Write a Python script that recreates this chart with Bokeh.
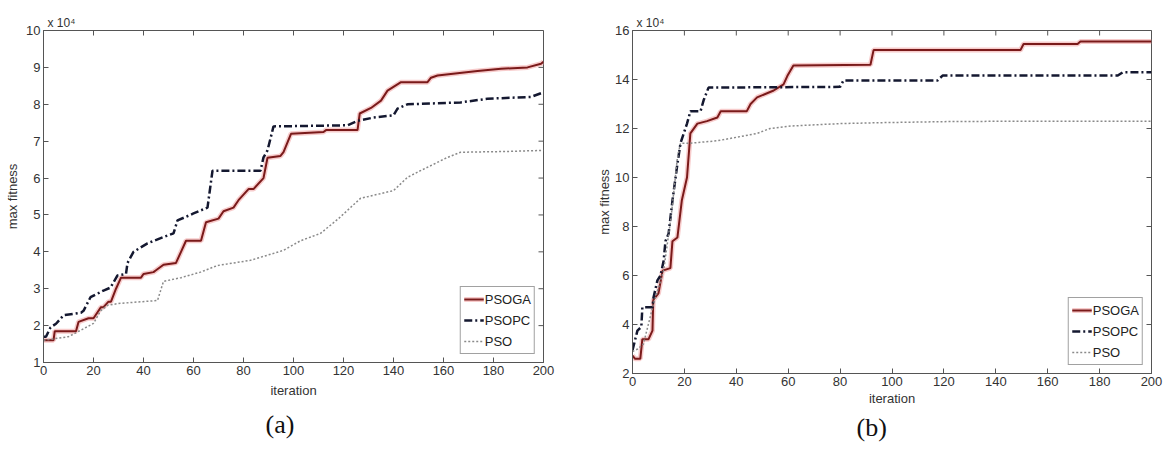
from bokeh.plotting import figure
from bokeh.models import Legend, LegendItem, FixedTicker, Range1d, Title
from bokeh.layouts import row
from bokeh.embed import file_html
from bokeh.resources import INLINE

# ---------------- data (a) ----------------
a_psoga_x = [0, 4, 4.5, 13, 14, 18, 20, 23, 24, 26, 27, 29, 31, 39, 40, 44, 45, 48, 53, 55, 57, 63, 65, 70, 72, 76, 78, 82, 84, 88, 89.6, 94.8, 96, 99, 112, 113, 125.6, 126.5, 131, 135, 137.6, 143, 153.6, 155, 157.6, 173.6, 183, 193.6, 199, 200]
a_psoga_y = [1.6, 1.6, 1.85, 1.85, 2.1, 2.2, 2.2, 2.5, 2.5, 2.65, 2.65, 3.0, 3.3, 3.3, 3.4, 3.45, 3.5, 3.65, 3.7, 4.0, 4.3, 4.3, 4.8, 4.9, 5.1, 5.2, 5.4, 5.7, 5.7, 6.0, 6.55, 6.6, 6.7, 7.2, 7.25, 7.3, 7.3, 7.75, 7.9, 8.1, 8.37, 8.6, 8.6, 8.72, 8.78, 8.9, 8.96, 9.0, 9.1, 9.15]
a_psopc_x = [0, 1, 2.8, 5, 8, 15, 16, 18.8, 24, 26.8, 29.6, 33, 33.6, 36, 41.6, 48, 52, 53.6, 60, 65.6, 66, 67.6, 86.8, 88, 89.6, 92, 121.6, 125.6, 132, 140, 141.6, 145.6, 166.8, 177.6, 195, 199, 200]
a_psopc_y = [1.7, 1.7, 1.95, 2.05, 2.28, 2.35, 2.4, 2.77, 2.95, 3.03, 3.36, 3.4, 3.7, 4.0, 4.23, 4.4, 4.5, 4.85, 5.04, 5.2, 5.4, 6.2, 6.2, 6.56, 6.75, 7.4, 7.43, 7.55, 7.64, 7.7, 7.88, 8.0, 8.05, 8.15, 8.2, 8.3, 8.3]
a_pso_x = [0, 10, 14.8, 20, 22.8, 25.6, 30, 45.6, 48, 55, 62.8, 69.6, 82.8, 96, 102.8, 110.8, 118, 126.8, 140, 145.6, 150.8, 161.6, 166.8, 185, 200]
a_pso_y = [1.6, 1.7, 1.87, 2.06, 2.4, 2.55, 2.6, 2.68, 3.2, 3.3, 3.45, 3.63, 3.77, 4.04, 4.3, 4.5, 4.9, 5.45, 5.66, 6.02, 6.2, 6.56, 6.7, 6.72, 6.75]

# ---------------- data (b) ----------------
b_psoga_x = [0, 1, 3, 3.8, 6.2, 7.7, 8, 10, 11.6, 14.6, 15.4, 17.3, 19, 21, 22.3, 25, 28.7, 32.7, 34, 44, 45.5, 48, 54.4, 58.2, 59.7, 62, 91.7, 92.9, 149.5, 150.7, 171.5, 172.6, 200]
b_psoga_y = [2.73, 2.6, 2.6, 3.4, 3.4, 3.75, 5.0, 5.27, 6.2, 6.3, 7.4, 7.55, 9.06, 10.0, 11.8, 12.2, 12.3, 12.45, 12.7, 12.7, 13.0, 13.27, 13.55, 13.8, 14.15, 14.57, 14.6, 15.2, 15.2, 15.45, 15.45, 15.55, 15.55]
b_psopc_x = [0, 1.9, 3.4, 3.8, 7.7, 8.1, 9.6, 10.8, 12, 12.7, 13.9, 15.4, 17.3, 18.5, 21, 22.3, 26.2, 27.4, 29.3, 80, 81.3, 117.5, 119.5, 187, 189, 200]
b_psopc_y = [2.95, 3.75, 3.9, 4.7, 4.7, 5.1, 5.8, 6.0, 6.6, 7.4, 7.7, 9.06, 10.55, 11.4, 12.2, 12.7, 12.7, 13.15, 13.67, 13.7, 13.96, 13.96, 14.16, 14.16, 14.3, 14.3]
b_pso_x = [0, 2, 4.2, 8, 12, 15, 17.3, 18.5, 22.3, 32.7, 40.5, 48, 53, 61, 80, 96.7, 120, 150, 200]
b_pso_y = [2.9, 3.0, 3.2, 4.8, 6.2, 8.5, 10.8, 11.4, 11.4, 11.5, 11.65, 11.8, 12.0, 12.1, 12.2, 12.24, 12.28, 12.3, 12.3]

series_names = ["PSOGA", "PSOPC", "PSO"]
x_ticks = [0, 20, 40, 60, 80, 100, 120, 140, 160, 180, 200]
a_y_ticks = [1, 2, 3, 4, 5, 6, 7, 8, 9, 10]
b_y_ticks = [2, 4, 6, 8, 10, 12, 14, 16]

AXC = "#555555"
FONT = "Liberation Sans"
TICK_PX = 5


def style_axis(ax, ticks):
    ax.ticker = FixedTicker(ticks=ticks)
    ax.axis_line_color = AXC
    ax.major_tick_line_color = AXC
    ax.major_tick_in = TICK_PX
    ax.major_tick_out = 0
    ax.minor_tick_line_color = None
    ax.major_label_text_font = FONT
    ax.major_label_text_font_size = "13px"
    ax.major_label_text_color = "#333333"
    ax.major_label_standoff = 3
    ax.axis_label_text_font = FONT
    ax.axis_label_text_font_size = "13px"
    ax.axis_label_text_font_style = "normal"
    ax.axis_label_text_color = "#333333"


def panel(fw, fh, bl, br, bt, bb, ymin, ymax, yticks, data, exp_text, cap, cap_off,
          cap_standoff, xlab_standoff, ylab_standoff):
    xmin, xmax = x_ticks[0], x_ticks[-1]
    p = figure(frame_width=fw, frame_height=fh, min_border_left=bl, min_border_right=br,
               min_border_top=bt, min_border_bottom=bb, output_backend="svg",
               toolbar_location=None, x_range=Range1d(xmin, xmax), y_range=Range1d(ymin, ymax))
    p.xgrid.visible = False
    p.ygrid.visible = False
    p.outline_line_color = AXC
    p.background_fill_color = "white"
    p.border_fill_color = "white"
    style_axis(p.xaxis[0], x_ticks)
    style_axis(p.yaxis[0], yticks)
    p.xaxis[0].axis_label = "iteration"
    p.xaxis[0].axis_label_standoff = xlab_standoff
    p.yaxis[0].axis_label = "max fitness"
    p.yaxis[0].axis_label_standoff = ylab_standoff

    # inward ticks on the top and right frame edges (MATLAB box style)
    dy = TICK_PX * (ymax - ymin) / fh
    dx = TICK_PX * (xmax - xmin) / fw
    p.segment(x0=x_ticks, y0=[ymax] * len(x_ticks), x1=x_ticks, y1=[ymax - dy] * len(x_ticks),
              line_color=AXC, line_width=1)
    p.segment(x0=[xmax] * len(yticks), y0=yticks, x1=[xmax - dx] * len(yticks), y1=yticks,
              line_color=AXC, line_width=1)

    (gx, gy), (cx, cy), (ox, oy) = data
    halo = p.line(gx, gy, line_color="#f2a8a8", line_width=5, line_alpha=0.6)
    r1 = p.line(gx, gy, line_color="#7a1a1a", line_width=2)
    r2 = p.line(cx, cy, line_color="#141830", line_width=2.5, line_dash="8 3 2 3")
    r3 = p.line(ox, oy, line_color="#8a8a8a", line_width=1.5, line_dash="2 2")

    leg = Legend(items=[LegendItem(label=series_names[0], renderers=[halo, r1]),
                        LegendItem(label=series_names[1], renderers=[r2]),
                        LegendItem(label=series_names[2], renderers=[r3])],
                 location="bottom_right")
    leg.label_text_font = FONT
    leg.label_text_font_size = "13px"
    leg.label_text_color = "#222222"
    leg.label_standoff = 1
    leg.label_height = 18
    leg.glyph_width = 20
    leg.glyph_height = 18
    leg.spacing = 3
    leg.padding = 3
    leg.margin = 8
    leg.border_line_color = "#444444"
    leg.background_fill_alpha = 1
    p.add_layout(leg)

    p.add_layout(Title(text=exp_text, align="left", offset=4, standoff=2,
                       text_font=FONT, text_font_size="12px", text_font_style="normal",
                       text_color="#333333"), "above")
    p.add_layout(Title(text=cap, align="left", offset=cap_off, standoff=cap_standoff,
                       text_font="Liberation Serif", text_font_size="26px",
                       text_font_style="normal", text_color="#111111"), "below")
    return p


pa = panel(500, 332, 43, 40, 30, 92, 1, 10, a_y_ticks,
           ((a_psoga_x, a_psoga_y), (a_psopc_x, a_psopc_y), (a_pso_x, a_pso_y)),
           "x 10\u2074", "(a)", 222, 14, 5, 3)
pb = panel(519, 343, 49, 15, 30, 81, 2, 16, b_y_ticks,
           ((b_psoga_x, b_psoga_y), (b_psopc_x, b_psopc_y), (b_pso_x, b_pso_y)),
           "x 10\u2074", "(b)", 224, 4, 2, 0)

lay = row(pa, pb)
open("out.html", "w").write(file_html(lay, INLINE))
